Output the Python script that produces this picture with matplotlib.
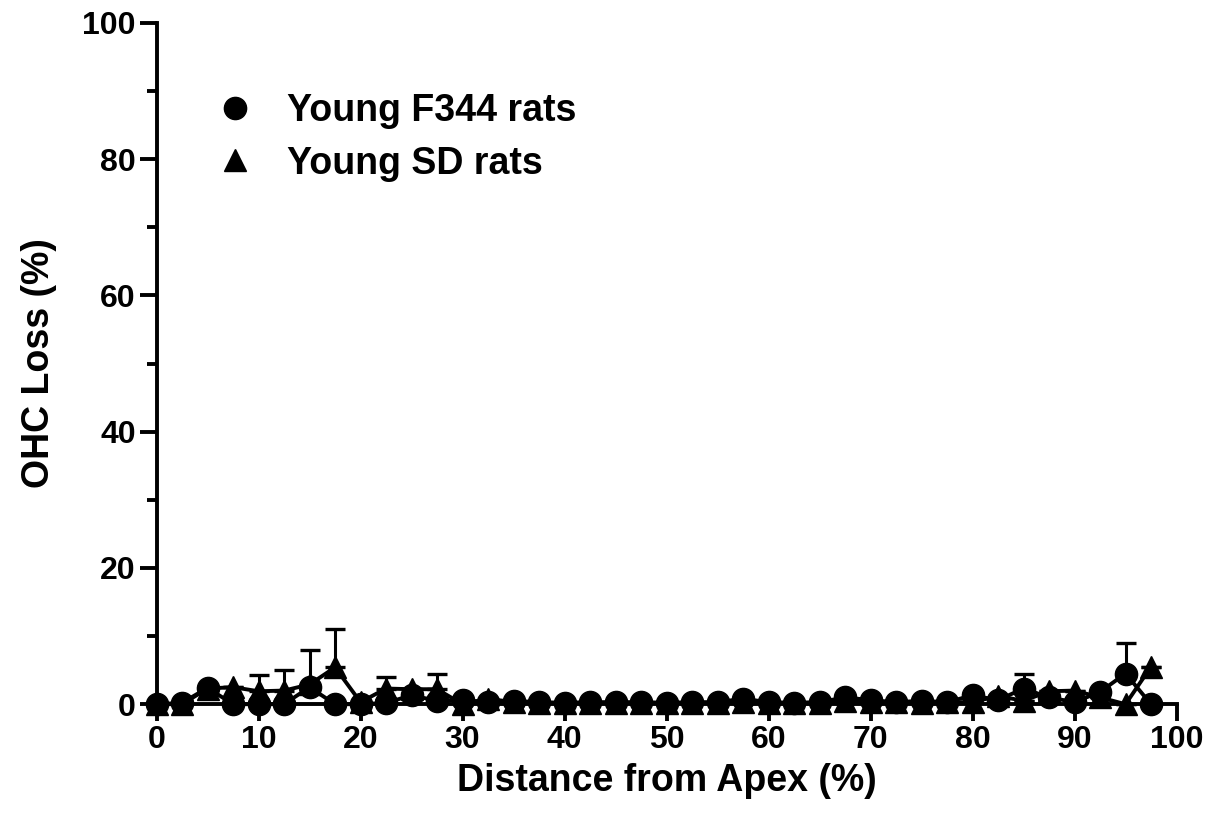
import numpy as np
import matplotlib
matplotlib.use("Agg")
import matplotlib.pyplot as plt

plt.rcParams['font.family'] = ['Liberation Sans', 'DejaVu Sans']

# Distance from apex (%), one point every 2.5 %
distance = np.arange(0, 100, 2.5)

# Young F344 rats (circles)
f344_loss = [0.0, 0.2, 2.4, 0.0, 0.0, 0.0, 2.5, 0.0, 0.0, 0.2,
             1.3, 0.5, 0.6, 0.3, 0.5, 0.3, 0.2, 0.3, 0.3, 0.3,
             0.2, 0.3, 0.3, 0.8, 0.3, 0.2, 0.3, 1.0, 0.6, 0.3,
             0.5, 0.3, 1.3, 0.6, 2.3, 1.0, 0.3, 1.8, 4.5, 0.0]
f344_err = [0, 0, 0, 0, 0, 0, 0, 0, 0, 0,
            0, 0, 0, 0, 0, 0, 0, 0, 0, 0,
            0, 0, 0, 0, 0, 0, 0, 0, 0, 0,
            0, 0, 0, 0, 2.2, 0, 0, 0, 4.5, 0]

# Young SD rats (triangles)
sd_loss = [0.0, 0.0, 2.3, 2.5, 1.9, 2.0, 2.9, 5.4, 0.3, 2.3,
           2.2, 2.2, 0.0, 0.8, 0.3, 0.2, 0.2, 0.2, 0.2, 0.2,
           0.2, 0.2, 0.2, 0.3, 0.2, 0.2, 0.2, 0.5, 0.3, 0.3,
           0.2, 0.3, 0.3, 1.2, 0.5, 1.9, 2.0, 1.0, 0.0, 5.5]
sd_err = [0, 0, 0, 0, 2.4, 3.0, 5.0, 5.7, 0, 1.7,
          0, 2.3, 0, 0, 0, 0, 0, 0, 0, 0,
          0, 0, 0, 0, 0, 0, 0, 0, 0, 0,
          0, 0, 0, 0, 0, 0, 0, 0, 0, 0]

fig, ax = plt.subplots(figsize=(12.23, 8.16), dpi=100)
fig.subplots_adjust(left=0.128, right=0.962, bottom=0.137, top=0.972)

sd = ax.errorbar(distance, sd_loss, yerr=[np.zeros(len(sd_err)), sd_err],
                 color='black', marker='^', markersize=16, linewidth=2.8,
                 elinewidth=2.2, capsize=7, capthick=2.4, clip_on=False, zorder=3)
f344 = ax.errorbar(distance, f344_loss, yerr=[np.zeros(len(f344_err)), f344_err],
                   color='black', marker='o', markersize=16, linewidth=2.8,
                   elinewidth=2.2, capsize=7, capthick=2.4, clip_on=False, zorder=4)
for c in sd[1] + f344[1]:
    c.set_clip_on(False)
for c in sd[2] + f344[2]:
    c.set_clip_on(False)

ax.set_xlim(0, 100)
ax.set_ylim(0, 100)
ax.set_xticks(np.arange(0, 101, 10))
ax.set_yticks(np.arange(0, 101, 20))
ax.set_yticks(np.arange(10, 100, 20), minor=True)

for s in ['top', 'right']:
    ax.spines[s].set_visible(False)
for s in ['left', 'bottom']:
    ax.spines[s].set_linewidth(2.8)

ax.tick_params(axis='both', which='major', length=12, width=2.8,
               labelsize=23, pad=3)
ax.tick_params(axis='y', which='minor', length=7, width=2.8)
for lab in ax.get_xticklabels() + ax.get_yticklabels():
    lab.set_fontweight('bold')

ax.set_xlabel('Distance from Apex (%)', fontsize=27, fontweight='bold', labelpad=6)
ax.set_ylabel('OHC Loss (%)', fontsize=27, fontweight='bold', labelpad=8)
ax.yaxis.set_label_coords(-0.098, 0.5)

h1 = plt.Line2D([], [], color='black', marker='o', linestyle='none', markersize=16)
h2 = plt.Line2D([], [], color='black', marker='^', linestyle='none', markersize=16)
leg = ax.legend([h1, h2], ['Young F344 rats', 'Young SD rats'],
                loc='upper left', bbox_to_anchor=(0.025, 0.947), frameon=False,
                handlelength=1.0, handletextpad=0.9, labelspacing=0.45,
                prop={'size': 27, 'weight': 'bold'})

fig.savefig('out.png', dpi=100)
